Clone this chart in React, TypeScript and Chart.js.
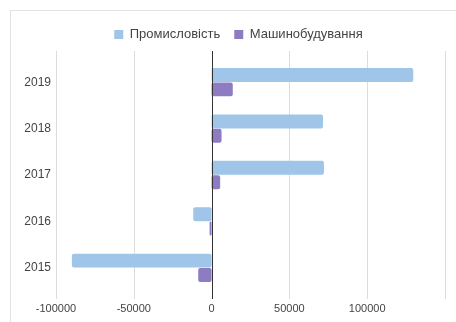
import React, { useEffect, useRef } from "react";
import { Chart, registerables } from "chart.js";

Chart.register(...registerables);

const categories = ["2019", "2018", "2017", "2016", "2015"];
const seriesNames = ["Промисловість", "Машинобудування"];
const promyslovist = [129600, 71600, 72200, -11800, -89800];
const mashynobuduvannia = [13600, 6400, 5500, -1300, -8600];
const xTickMin = -100000;
const xTickMax = 150000;
const xTickStep = 50000;

const layoutPlugin = {
  id: "legendTweak",
  beforeInit(chart: any) {
    const legend = chart.legend;
    if (!legend) return;
    const orig = legend.fit;
    legend.fit = function () {
      orig.call(this);
      this.height += 8;
    };
  },
  afterLayout(chart: any) {
    const legend = chart.legend;
    if (!legend) return;
    legend.left += 14;
    legend.right += 14;
  },
};

const gridPlugin = {
  id: "extGrid",
  beforeDatasetsDraw(chart: any) {
    const { ctx, chartArea, scales } = chart;
    const x = scales.x;
    ctx.save();
    ctx.lineWidth = 1;
    x.ticks.forEach((t: any) => {
      if (t.value === 0) return;
      const px = Math.round(x.getPixelForValue(t.value)) + 0.5;
      ctx.strokeStyle = "#dcdcdc";
      ctx.beginPath();
      ctx.moveTo(px, chartArea.top - 8);
      ctx.lineTo(px, chartArea.bottom + 8);
      ctx.stroke();
    });
    ctx.restore();
  },
  afterDatasetsDraw(chart: any) {
    const { ctx, chartArea, scales } = chart;
    const x = scales.x;
    ctx.save();
    ctx.lineWidth = 1;
    const px = Math.round(x.getPixelForValue(0)) + 0.5;
    ctx.strokeStyle = "#333333";
    ctx.beginPath();
    ctx.moveTo(px, chartArea.top - 8);
    ctx.lineTo(px, chartArea.bottom + 8);
    ctx.stroke();
    ctx.restore();
  },
};

export default function App() {
  const ref = useRef<HTMLCanvasElement>(null);
  useEffect(() => {
    if (!ref.current) return;
    const chart = new Chart(ref.current, {
      type: "bar",
      data: {
        labels: categories,
        datasets: [
          {
            label: seriesNames[0],
            data: promyslovist,
            backgroundColor: "#9fc5e8",
            borderRadius: 2,
            borderSkipped: false,
            categoryPercentage: 0.62,
            barPercentage: 0.97,
          },
          {
            label: seriesNames[1],
            data: mashynobuduvannia,
            backgroundColor: "#8e7cc3",
            borderRadius: 2,
            borderSkipped: false,
            categoryPercentage: 0.62,
            barPercentage: 0.97,
          },
        ],
      },
      plugins: [layoutPlugin, gridPlugin],
      options: {
        indexAxis: "y",
        animation: false,
        responsive: false,
        maintainAspectRatio: false,
        layout: { padding: { left: 0, right: 7, top: 14, bottom: 0 } },
        plugins: {
          legend: {
            position: "top",
            labels: {
              boxWidth: 9,
              boxHeight: 9,
              padding: 14,
              color: "#444",
              font: { family: "'Liberation Sans', Arial, sans-serif", size: 13 },
            },
          },
          tooltip: { enabled: false },
        },
        scales: {
          x: {
            type: "linear",
            min: xTickMin,
            max: xTickMax,
            grid: { display: false, drawTicks: false },
            border: { display: false },
            ticks: {
              stepSize: xTickStep,
              color: "#444",
              font: { family: "'Liberation Sans', Arial, sans-serif", size: 11 },
              padding: 11,
              callback: (v: any) => (v === xTickMax ? "" : String(v)),
            },
            afterFit: (s: any) => {
              s.height = 31;
            },
          },
          y: {
            grid: { display: false, drawTicks: false },
            border: { display: false },
            ticks: {
              color: "#444",
              font: { family: "'Liberation Sans', Arial, sans-serif", size: 12 },
              padding: 5,
            },
            afterFit: (s: any) => {
              s.width = 56;
            },
          },
        },
      },
    });
    return () => chart.destroy();
  }, []);
  return (
    <div style={{ position: "absolute", left: 0, top: 0, width: 456, height: 322, background: "#fff" }}>
      <div
        style={{
          position: "absolute",
          left: 10,
          top: 10,
          width: 460,
          height: 330,
          borderTop: "1px solid #e3e3e3",
          borderLeft: "1px solid #e3e3e3",
        }}
      />
      <canvas ref={ref} width={456} height={322} style={{ position: "absolute", left: 0, top: 0 }} />
    </div>
  );
}
